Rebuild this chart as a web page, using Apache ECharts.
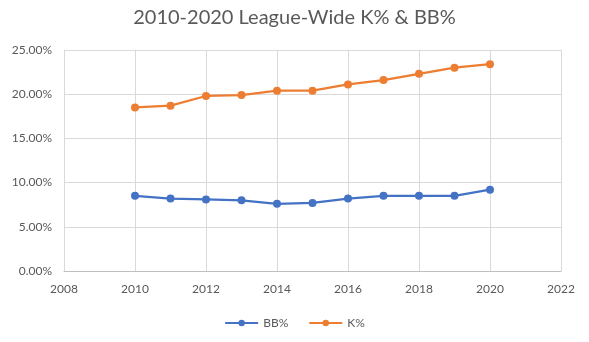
<!DOCTYPE html>
<html><head><meta charset="utf-8">
<script src="https://cdn.jsdelivr.net/npm/echarts@6/dist/echarts.min.js"></script>
<style>html,body{margin:0;padding:0;background:#fff}#c{width:589px;height:342px}</style>
</head><body><div id="c"></div>
<script>
const years = [2010,2011,2012,2013,2014,2015,2016,2017,2018,2019,2020];
const bbPct = [8.5,8.2,8.1,8.0,7.6,7.7,8.2,8.5,8.5,8.5,9.2];
const kPct = [18.5,18.7,19.8,19.9,20.4,20.4,21.1,21.6,22.3,23.0,23.4];
const titleText = '2010-2020 League-Wide K% & BB%';
const font = 'Lato, "Open Sans", sans-serif';
const chart = echarts.init(document.getElementById('c'));
chart.setOption({
  animation:false,
  title:{text:titleText,left:'center',top:3,textStyle:{fontFamily:font,fontSize:20,fontWeight:'normal',color:'#595959'}},
  legend:{bottom:8,left:'center',itemWidth:33,itemHeight:8,itemGap:20,textStyle:{fontFamily:font,fontSize:12,color:'#595959'},data:['BB%','K%']},
  grid:{left:64,right:28,top:50,bottom:71,containLabel:false},
  xAxis:{type:'value',min:2008,max:2022,interval:2,
    axisLine:{show:true,lineStyle:{color:'#bfbfbf'}},axisTick:{show:false},
    splitLine:{show:true,lineStyle:{color:'#d9d9d9'}},
    axisLabel:{fontFamily:font,fontSize:12,color:'#595959',margin:12,formatter:v=>String(v)}},
  yAxis:{type:'value',min:0,max:25,interval:5,
    axisLine:{show:false},axisTick:{show:false},
    splitLine:{lineStyle:{color:'#d9d9d9'}},
    axisLabel:{fontFamily:font,fontSize:12,color:'#595959',margin:12,formatter:v=>v.toFixed(2)+'%'}},
  series:[
    {name:'BB%',type:'line',data:years.map((y,i)=>[y,bbPct[i]]),symbol:'circle',symbolSize:8,
     itemStyle:{color:'#4472C4'},lineStyle:{width:2.25,color:'#4472C4'}},
    {name:'K%',type:'line',data:years.map((y,i)=>[y,kPct[i]]),symbol:'circle',symbolSize:8,
     itemStyle:{color:'#ED7D31'},lineStyle:{width:2.25,color:'#ED7D31'}}
  ]
});
</script></body></html>
